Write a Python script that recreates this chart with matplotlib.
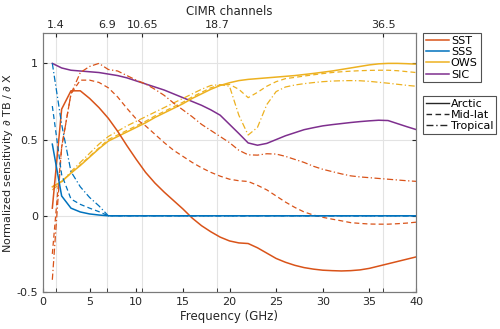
import matplotlib
matplotlib.use("Agg")
import matplotlib.pyplot as plt
from matplotlib.lines import Line2D

freq = list(range(1, 41))

sst_arctic = [0.05, 0.70, 0.82, 0.82, 0.77, 0.71, 0.64, 0.555, 0.46, 0.37,
              0.285, 0.215, 0.155, 0.10, 0.045, -0.015, -0.065, -0.105, -0.14, -0.165,
              -0.178, -0.182, -0.21, -0.245, -0.28, -0.305, -0.325, -0.34, -0.35, -0.357,
              -0.36, -0.362, -0.36, -0.355, -0.345, -0.33, -0.315, -0.30, -0.285, -0.27]
sst_midlat = [-0.25, 0.45, 0.80, 0.89, 0.89, 0.875, 0.84, 0.78, 0.705, 0.635,
              0.59, 0.535, 0.48, 0.43, 0.39, 0.35, 0.315, 0.285, 0.26, 0.24,
              0.23, 0.225, 0.20, 0.17, 0.13, 0.09, 0.055, 0.025, 0.005, -0.01,
              -0.022, -0.033, -0.045, -0.05, -0.054, -0.055, -0.055, -0.052, -0.048, -0.042]
sst_tropical = [-0.42, 0.45, 0.80, 0.94, 0.98, 1.00, 0.96, 0.95, 0.92, 0.89,
                0.865, 0.83, 0.79, 0.74, 0.695, 0.65, 0.60, 0.56, 0.52, 0.48,
                0.43, 0.40, 0.398, 0.407, 0.405, 0.39, 0.37, 0.35, 0.325, 0.305,
                0.29, 0.275, 0.262, 0.255, 0.25, 0.245, 0.24, 0.235, 0.23, 0.226]

sss_arctic = [0.47, 0.13, 0.05, 0.025, 0.012, 0.005] + [0.0] * 34
sss_midlat = [0.72, 0.27, 0.11, 0.075, 0.05, 0.027] + [0.0] * 34
sss_tropical = [1.00, 0.60, 0.29, 0.19, 0.12, 0.065] + [0.0] * 34

ows_arctic = [0.19, 0.225, 0.28, 0.33, 0.385, 0.44, 0.49, 0.52, 0.55, 0.58,
              0.61, 0.645, 0.675, 0.705, 0.735, 0.77, 0.80, 0.83, 0.855, 0.873,
              0.887, 0.895, 0.90, 0.905, 0.91, 0.915, 0.92, 0.927, 0.934, 0.942,
              0.95, 0.96, 0.97, 0.98, 0.99, 0.997, 1.0, 1.0, 0.998, 0.995]
ows_midlat = [0.19, 0.225, 0.28, 0.335, 0.39, 0.445, 0.50, 0.53, 0.56, 0.59,
              0.62, 0.655, 0.685, 0.715, 0.745, 0.78, 0.81, 0.84, 0.858, 0.862,
              0.83, 0.775, 0.81, 0.85, 0.88, 0.90, 0.908, 0.917, 0.925, 0.933,
              0.94, 0.945, 0.949, 0.952, 0.954, 0.955, 0.955, 0.952, 0.946, 0.94]
ows_tropical = [0.17, 0.22, 0.29, 0.35, 0.41, 0.47, 0.52, 0.555, 0.59, 0.62,
                0.65, 0.68, 0.71, 0.74, 0.77, 0.80, 0.83, 0.855, 0.86, 0.85,
                0.66, 0.53, 0.58, 0.73, 0.815, 0.845, 0.858, 0.867, 0.874, 0.88,
                0.884, 0.886, 0.887, 0.886, 0.882, 0.876, 0.87, 0.863, 0.856, 0.85]

sic_arctic = [1.00, 0.97, 0.955, 0.95, 0.945, 0.94, 0.93, 0.92, 0.905, 0.885,
              0.865, 0.845, 0.825, 0.80, 0.775, 0.75, 0.725, 0.695, 0.66, 0.60,
              0.54, 0.478, 0.463, 0.475, 0.50, 0.525, 0.545, 0.565, 0.578, 0.59,
              0.598, 0.605, 0.612, 0.618, 0.623, 0.627, 0.625, 0.605, 0.585, 0.566]

channels = [1.4, 6.9, 10.65, 18.7, 36.5]
channel_labels = ["1.4", "6.9", "10.65", "18.7", "36.5"]
xticks = [0, 5, 10, 15, 20, 25, 30, 35, 40]
yticks = [-0.5, 0, 0.5, 1]
ytick_labels = ["-0.5", "0", "0.5", "1"]

params = ["SST", "SSS", "OWS", "SIC"]
regions = ["Arctic", "Mid-lat", "Tropical"]
colors = {"SST": "#D95319", "SSS": "#0072BD", "OWS": "#EDB120", "SIC": "#7E2F8E"}
styles = {"Arctic": "-", "Mid-lat": (0, (4, 2.5)), "Tropical": (0, (5, 2, 1, 2))}

data = {
    ("SST", "Arctic"): sst_arctic, ("SST", "Mid-lat"): sst_midlat, ("SST", "Tropical"): sst_tropical,
    ("SSS", "Arctic"): sss_arctic, ("SSS", "Mid-lat"): sss_midlat, ("SSS", "Tropical"): sss_tropical,
    ("OWS", "Arctic"): ows_arctic, ("OWS", "Mid-lat"): ows_midlat, ("OWS", "Tropical"): ows_tropical,
    ("SIC", "Arctic"): sic_arctic,
}

plt.rcParams['font.family'] = ['DejaVu Sans']
plt.rcParams['font.size'] = 8

fig = plt.figure(figsize=(5.0, 3.29), dpi=100)
ax = fig.add_axes([0.086, 0.1125, 0.746, 0.7875])

axcol = "#262626"
gridcol = "#e3e3e3"
for c in channels:
    ax.axvline(c, color=gridcol, lw=0.8, zorder=0)
for y in yticks:
    ax.axhline(y, color=gridcol, lw=0.8, zorder=0)

for p in ["SIC", "OWS", "SST", "SSS"]:
    for r in regions:
        if (p, r) in data:
            lw = 1.1 if r == "Arctic" else 0.9
            ax.plot(freq, data[(p, r)], color=colors[p], linestyle=styles[r], lw=lw, zorder=2)

ax.set_xlim(0, 40)
ax.set_ylim(-0.5, 1.2)
ax.set_xticks(xticks)
ax.set_xticks(channels, minor=True)
ax.set_yticks(yticks)
ax.set_yticklabels(ytick_labels)
ax.tick_params(which='both', direction='in', length=3, color=axcol, labelcolor=axcol,
               right=True, labelsize=8)
ax.tick_params(which='minor', top=False)
ax.set_xlabel("Frequency (GHz)", color=axcol, fontsize=8.5, labelpad=2)
ax.set_ylabel("Normalized sensitivity $\\partial$ TB / $\\partial$ X", color=axcol,
              fontsize=8, labelpad=1)
for s in ax.spines.values():
    s.set_color("#7a7a7a")
    s.set_linewidth(0.8)

ax2 = ax.twiny()
ax2.set_xlim(0, 40)
ax2.set_xticks(channels)
ax2.set_xticklabels(channel_labels)
ax2.tick_params(direction='in', length=3, color=axcol, labelcolor=axcol, labelsize=8, pad=2)
ax2.set_xlabel("CIMR channels", color=axcol, fontsize=8.5, labelpad=4)
for s in ax2.spines.values():
    s.set_color("#7a7a7a")
    s.set_linewidth(0.8)

legkw = dict(loc='upper left', frameon=True, fancybox=False, edgecolor="#262626",
             handlelength=2.1, handletextpad=0.15, labelspacing=0.12, borderpad=0.25,
             borderaxespad=0.0, fontsize=8)
h1 = [Line2D([], [], color=colors[p], lw=1.1) for p in params]
leg1 = ax.legend(h1, params, bbox_to_anchor=(1.019, 1.0), **legkw)
leg1.get_frame().set_linewidth(0.8)
ax.add_artist(leg1)
h2 = [Line2D([], [], color="#262626", lw=1.0, linestyle=styles[r]) for r in regions]
leg2 = ax.legend(h2, regions, bbox_to_anchor=(1.019, 0.757), **legkw)
leg2.get_frame().set_linewidth(0.8)

fig.savefig("out.png", dpi=100)
